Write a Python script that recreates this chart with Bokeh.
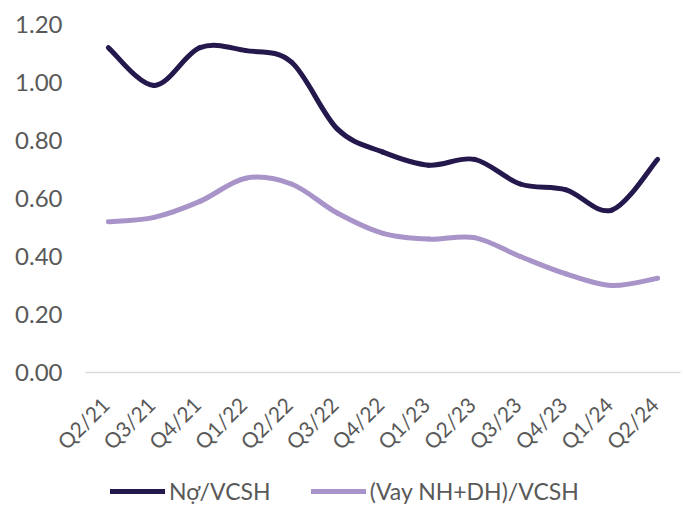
from bokeh.plotting import figure
from bokeh.models import (Range1d, FixedTicker, NumeralTickFormatter, Legend, LegendItem,
                          ColumnDataSource, LinearAxis)
from bokeh.layouts import column
from bokeh.embed import file_html
from bokeh.resources import INLINE
import math

categories = ["Q2/21", "Q3/21", "Q4/21", "Q1/22", "Q2/22", "Q3/22", "Q4/22",
              "Q1/23", "Q2/23", "Q3/23", "Q4/23", "Q1/24", "Q2/24"]
no_vcsh = [1.12, 0.99, 1.12, 1.11, 1.07, 0.84, 0.76, 0.715, 0.735, 0.65, 0.63, 0.56, 0.735]
vay_vcsh = [0.52, 0.535, 0.59, 0.67, 0.65, 0.55, 0.48, 0.46, 0.465, 0.40, 0.34, 0.30, 0.325]
series_names = ["Nợ/VCSH", "(Vay NH+DH)/VCSH"]
y_ticks = [0.0, 0.2, 0.4, 0.6, 0.8, 1.0, 1.2]

DARK = "#24184c"
LIGHT = "#a894c8"
TXT = "#595959"
FONT = "Lato"
LW = 5

n = len(categories)
p = figure(width=684, height=465, output_backend="svg", toolbar_location=None,
           x_range=Range1d(-0.5, n - 0.5), y_range=Range1d(0, 1.2),
           x_axis_location=None,
           min_border_left=85, min_border_right=4, min_border_top=24, min_border_bottom=84)
p.outline_line_color = None
p.xgrid.visible = False
p.ygrid.visible = False

# label axis range, nudged so the rotated labels end just right of each category
shift = -0.07
p.extra_x_ranges = {"lab": Range1d(-0.5 - shift, n - 0.5 - shift)}


def bezier_source(vals):
    m = len(vals)
    pts = [(i, v) for i, v in enumerate(vals)]
    x0, y0, x1, y1, cx0, cy0, cx1, cy1 = [], [], [], [], [], [], [], []
    for i in range(m - 1):
        p0 = pts[i - 1] if i > 0 else pts[i]
        p1 = pts[i]
        p2 = pts[i + 1]
        p3 = pts[i + 2] if i + 2 < m else pts[i + 1]
        x0.append(p1[0]); y0.append(p1[1])
        x1.append(p2[0]); y1.append(p2[1])
        cx0.append(p1[0] + (p2[0] - p0[0]) / 6.0)
        cy0.append(p1[1] + (p2[1] - p0[1]) / 6.0)
        cx1.append(p2[0] - (p3[0] - p1[0]) / 6.0)
        cy1.append(p2[1] - (p3[1] - p1[1]) / 6.0)
    return ColumnDataSource(dict(x0=x0, y0=y0, x1=x1, y1=y1, cx0=cx0, cy0=cy0, cx1=cx1, cy1=cy1))


for vals, col in [(vay_vcsh, LIGHT), (no_vcsh, DARK)]:
    p.bezier(x0="x0", y0="y0", x1="x1", y1="y1", cx0="cx0", cy0="cy0", cx1="cx1", cy1="cy1",
             source=bezier_source(vals), line_color=col, line_width=LW, line_cap="round")

xaxis = LinearAxis(x_range_name="lab")
xaxis.ticker = FixedTicker(ticks=list(range(n)))
xaxis.major_label_overrides = {i: c for i, c in enumerate(categories)}
xaxis.major_label_orientation = math.pi / 4
xaxis.major_tick_line_color = None
xaxis.minor_tick_line_color = None
xaxis.axis_line_color = "#d9d9d9"
xaxis.axis_line_width = 1.5
xaxis.major_label_text_font = FONT
xaxis.major_label_text_font_size = "21px"
xaxis.major_label_text_color = TXT
xaxis.major_label_standoff = 22
p.add_layout(xaxis, "below")

p.yaxis.ticker = FixedTicker(ticks=y_ticks)
p.yaxis.formatter = NumeralTickFormatter(format="0.00")
p.yaxis.axis_line_color = None
p.yaxis.major_tick_line_color = None
p.yaxis.minor_tick_line_color = None
p.yaxis.major_label_text_font = FONT
p.yaxis.major_label_text_font_size = "24px"
p.yaxis.major_label_text_color = TXT
p.yaxis.major_label_standoff = 17

# legend strip
lg = figure(width=684, height=53, output_backend="svg", toolbar_location=None,
            x_range=Range1d(0, 1), y_range=Range1d(0, 1),
            x_axis_location=None, y_axis_location=None,
            min_border_left=0, min_border_right=0, min_border_top=0, min_border_bottom=0)
lg.outline_line_color = None
lg.xgrid.visible = False
lg.ygrid.visible = False
l1 = lg.line(x=[0, 1], y=[-5, -5], line_color=DARK, line_width=LW, line_cap="round")
l2 = lg.line(x=[0, 1], y=[-5, -5], line_color=LIGHT, line_width=LW, line_cap="round")
legend = Legend(items=[LegendItem(label=series_names[0], renderers=[l1]),
                       LegendItem(label=series_names[1], renderers=[l2])],
                orientation="horizontal", location=(25, 13),
                label_text_font=FONT, label_text_font_size="23px", label_text_color=TXT,
                glyph_width=55, glyph_height=20, spacing=40, label_standoff=4,
                padding=5, margin=0,
                border_line_color=None, background_fill_alpha=0)
lg.add_layout(legend, "center")

open("out.html", "w").write(file_html(column(p, lg), INLINE))
